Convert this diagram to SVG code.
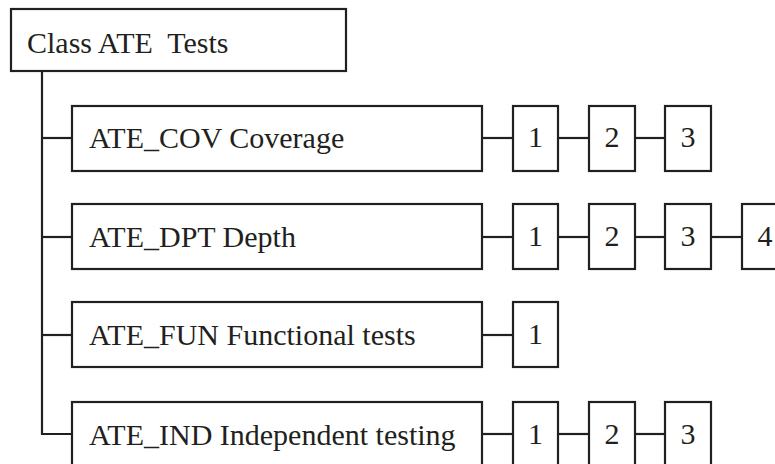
<svg xmlns="http://www.w3.org/2000/svg" width="775" height="464" viewBox="0 0 775 464">
<style>
rect{fill:#fff;stroke:#231f20;stroke-width:2.2}
line,polyline{stroke:#231f20;stroke-width:2.2;fill:none}
text{font-family:"Liberation Serif","Times New Roman",serif;font-size:30px;fill:#231f20}
.d{text-anchor:middle}
</style>
<rect x="0" y="0" width="775" height="464" style="stroke:none"/>
<g id="connectors">
<polyline points="42,71 42,434 72,434"/>
<line x1="42" y1="138" x2="72" y2="138"/>
<line x1="42" y1="237" x2="72" y2="237"/>
<line x1="42" y1="335" x2="72" y2="335"/>
<line x1="482" y1="138" x2="513" y2="138"/><line x1="558" y1="138" x2="589" y2="138"/><line x1="635" y1="138" x2="665" y2="138"/>
<line x1="482" y1="237" x2="513" y2="237"/><line x1="558" y1="237" x2="589" y2="237"/><line x1="635" y1="237" x2="665" y2="237"/><line x1="711" y1="237" x2="742" y2="237"/>
<line x1="482" y1="335" x2="513" y2="335"/>
<line x1="482" y1="434" x2="513" y2="434"/><line x1="558" y1="434" x2="589" y2="434"/><line x1="635" y1="434" x2="665" y2="434"/>
</g>
<g id="root"><rect x="11" y="9" width="335" height="62"/><text x="27" y="53" xml:space="preserve">Class ATE  Tests</text></g>
<g id="cov"><rect x="72" y="106" width="410" height="65"/><text x="89" y="148">ATE_COV Coverage</text></g>
<g id="cov1"><rect x="513" y="106" width="45" height="65"/><text class="d" x="535.5" y="147">1</text></g>
<g id="cov2"><rect x="589" y="106" width="46" height="65"/><text class="d" x="612" y="147">2</text></g>
<g id="cov3"><rect x="665" y="106" width="46" height="65"/><text class="d" x="688" y="147">3</text></g>
<g id="dpt"><rect x="72" y="204" width="410" height="65"/><text x="89" y="247">ATE_DPT Depth</text></g>
<g id="dpt1"><rect x="513" y="204" width="45" height="65"/><text class="d" x="535.5" y="246">1</text></g>
<g id="dpt2"><rect x="589" y="204" width="46" height="65"/><text class="d" x="612" y="246">2</text></g>
<g id="dpt3"><rect x="665" y="204" width="46" height="65"/><text class="d" x="688" y="246">3</text></g>
<g id="dpt4"><rect x="742" y="204" width="46" height="65"/><text class="d" x="765" y="246">4</text></g>
<g id="fun"><rect x="72" y="302" width="410" height="65"/><text x="89" y="345">ATE_FUN Functional tests</text></g>
<g id="fun1"><rect x="513" y="302" width="45" height="65"/><text class="d" x="535.5" y="344">1</text></g>
<g id="ind"><rect x="72" y="402" width="410" height="65"/><text x="89" y="445">ATE_IND Independent testing</text></g>
<g id="ind1"><rect x="513" y="402" width="45" height="65"/><text class="d" x="535.5" y="444">1</text></g>
<g id="ind2"><rect x="589" y="402" width="46" height="65"/><text class="d" x="612" y="444">2</text></g>
<g id="ind3"><rect x="665" y="402" width="46" height="65"/><text class="d" x="688" y="444">3</text></g>
</svg>
